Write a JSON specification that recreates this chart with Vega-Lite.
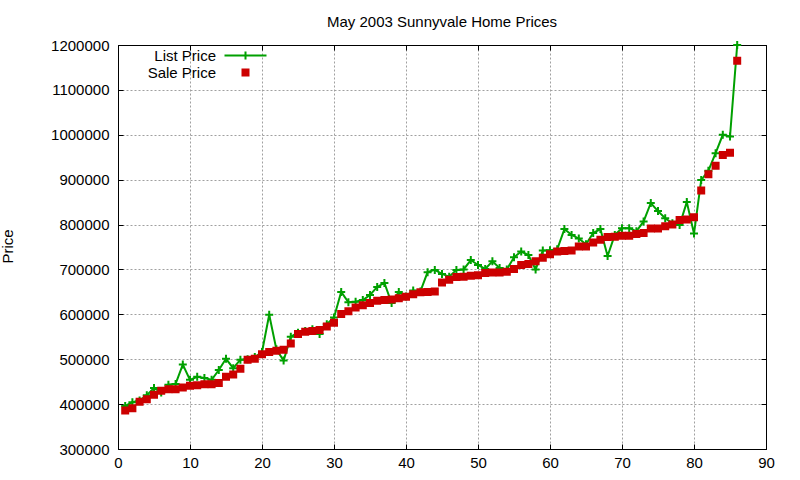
{
  "$schema": "https://vega.github.io/schema/vega-lite/v6.json",
  "width": 648,
  "height": 404,
  "autosize": {"type": "none"},
  "padding": {"left": 118, "top": 45, "right": 34, "bottom": 31},
  "background": "white",
  "title": {"text": "May 2003 Sunnyvale Home Prices", "font": "Liberation Sans", "fontSize": 15, "fontWeight": "normal", "color": "black", "anchor": "middle", "baseline": "alphabetic", "offset": 19, "dy": 24},
  "config": {
    "view": {"stroke": "black", "strokeWidth": 1},
    "axis": {"domainColor": "black", "tickColor": "black", "labelColor": "black", "labelFont": "Liberation Sans", "labelFontSize": 15, "titleFont": "Liberation Sans", "titleFontSize": 15, "titleFontWeight": "normal", "titleColor": "black", "gridColor": "#a0a0a0", "gridDash": [2, 2], "gridWidth": 1, "gridOpacity": 1},
    "legend": {"title": null, "orient": "none", "legendX": 120, "legendY": 3, "padding": 0, "labelFont": "Liberation Sans", "labelFontSize": 15, "labelColor": "black", "labelAlign": "right", "labelOffset": -37, "symbolSize": 36, "symbolStrokeWidth": 2, "rowPadding": 1, "labelLimit": 300}
  },
  "data": {"values": [
    {"n":1,"List Price":396000,"Sale Price":386000},
    {"n":2,"List Price":404000,"Sale Price":391000},
    {"n":3,"List Price":408000,"Sale Price":405000},
    {"n":4,"List Price":420000,"Sale Price":411000},
    {"n":5,"List Price":436000,"Sale Price":421000},
    {"n":6,"List Price":426000,"Sale Price":430000},
    {"n":7,"List Price":443000,"Sale Price":433000},
    {"n":8,"List Price":445000,"Sale Price":433000},
    {"n":9,"List Price":488000,"Sale Price":437000},
    {"n":10,"List Price":454000,"Sale Price":441000},
    {"n":11,"List Price":461000,"Sale Price":442000},
    {"n":12,"List Price":458000,"Sale Price":444000},
    {"n":13,"List Price":454000,"Sale Price":444000},
    {"n":14,"List Price":476000,"Sale Price":447000},
    {"n":15,"List Price":501000,"Sale Price":461000},
    {"n":16,"List Price":480000,"Sale Price":466000},
    {"n":17,"List Price":499000,"Sale Price":479000},
    {"n":18,"List Price":500000,"Sale Price":499000},
    {"n":19,"List Price":505000,"Sale Price":501000},
    {"n":20,"List Price":516000,"Sale Price":511000},
    {"n":21,"List Price":599000,"Sale Price":516000},
    {"n":22,"List Price":522000,"Sale Price":519000},
    {"n":23,"List Price":497000,"Sale Price":521000},
    {"n":24,"List Price":550000,"Sale Price":535000},
    {"n":25,"List Price":559000,"Sale Price":556000},
    {"n":26,"List Price":563000,"Sale Price":561000},
    {"n":27,"List Price":567000,"Sale Price":563000},
    {"n":28,"List Price":556000,"Sale Price":565000},
    {"n":29,"List Price":578000,"Sale Price":573000},
    {"n":30,"List Price":593000,"Sale Price":581000},
    {"n":31,"List Price":650000,"Sale Price":601000},
    {"n":32,"List Price":627000,"Sale Price":607000},
    {"n":33,"List Price":628000,"Sale Price":615000},
    {"n":34,"List Price":632000,"Sale Price":620000},
    {"n":35,"List Price":643000,"Sale Price":625000},
    {"n":36,"List Price":661000,"Sale Price":630000},
    {"n":37,"List Price":670000,"Sale Price":632000},
    {"n":38,"List Price":625000,"Sale Price":633000},
    {"n":39,"List Price":650000,"Sale Price":636000},
    {"n":40,"List Price":640000,"Sale Price":639000},
    {"n":41,"List Price":653000,"Sale Price":645000},
    {"n":42,"List Price":651000,"Sale Price":649000},
    {"n":43,"List Price":694000,"Sale Price":650000},
    {"n":44,"List Price":699000,"Sale Price":651000},
    {"n":45,"List Price":690000,"Sale Price":671000},
    {"n":46,"List Price":684000,"Sale Price":677000},
    {"n":47,"List Price":699000,"Sale Price":683000},
    {"n":48,"List Price":700000,"Sale Price":684000},
    {"n":49,"List Price":721000,"Sale Price":686000},
    {"n":50,"List Price":710000,"Sale Price":687000},
    {"n":51,"List Price":701000,"Sale Price":692000},
    {"n":52,"List Price":718000,"Sale Price":693000},
    {"n":53,"List Price":703000,"Sale Price":693000},
    {"n":54,"List Price":700000,"Sale Price":695000},
    {"n":55,"List Price":727000,"Sale Price":701000},
    {"n":56,"List Price":740000,"Sale Price":710000},
    {"n":57,"List Price":732000,"Sale Price":712000},
    {"n":58,"List Price":700000,"Sale Price":718000},
    {"n":59,"List Price":742000,"Sale Price":726000},
    {"n":60,"List Price":743000,"Sale Price":734000},
    {"n":61,"List Price":745000,"Sale Price":740000},
    {"n":62,"List Price":790000,"Sale Price":741000},
    {"n":63,"List Price":777000,"Sale Price":742000},
    {"n":64,"List Price":769000,"Sale Price":751000},
    {"n":65,"List Price":756000,"Sale Price":751000},
    {"n":66,"List Price":781000,"Sale Price":760000},
    {"n":67,"List Price":790000,"Sale Price":766000},
    {"n":68,"List Price":730000,"Sale Price":772000},
    {"n":69,"List Price":777000,"Sale Price":773000},
    {"n":70,"List Price":792000,"Sale Price":775000},
    {"n":71,"List Price":792000,"Sale Price":775000},
    {"n":72,"List Price":785000,"Sale Price":779000},
    {"n":73,"List Price":807000,"Sale Price":781000},
    {"n":74,"List Price":848000,"Sale Price":791000},
    {"n":75,"List Price":830000,"Sale Price":791000},
    {"n":76,"List Price":814000,"Sale Price":796000},
    {"n":77,"List Price":803000,"Sale Price":800000},
    {"n":78,"List Price":799000,"Sale Price":810000},
    {"n":79,"List Price":850000,"Sale Price":811000},
    {"n":80,"List Price":780000,"Sale Price":816000},
    {"n":81,"List Price":899000,"Sale Price":876000},
    {"n":82,"List Price":920000,"Sale Price":912000},
    {"n":83,"List Price":959000,"Sale Price":931000},
    {"n":84,"List Price":1000000,"Sale Price":955000},
    {"n":85,"List Price":996000,"Sale Price":960000},
    {"n":86,"List Price":1200000,"Sale Price":1165000}
  ]},
  "transform": [{"fold": ["List Price", "Sale Price"], "as": ["series", "price"]}],
  "resolve": {"scale": {"x": "shared", "y": "shared"}, "axis": {"x": "independent", "y": "independent"}},
  "layer": [
    {
      "transform": [{"filter": "datum.series === 'List Price'"}],
      "mark": {"type": "line", "color": "#00a000", "strokeWidth": 2},
      "encoding": {
        "x": {"field": "n", "type": "quantitative", "scale": {"domain": [0, 90], "nice": false},
          "axis": {"orient": "bottom", "title": null, "values": [0,10,20,30,40,50,60,70,80,90], "grid": true, "tickSize": -5, "labelPadding": 11, "labelFlush": false, "domain": true}},
        "y": {"field": "price", "type": "quantitative", "scale": {"domain": [300000, 1200000], "nice": false, "zero": false},
          "axis": {"orient": "left", "title": "Price", "values": [300000,400000,500000,600000,700000,800000,900000,1000000,1100000,1200000], "format": "d", "grid": true, "tickSize": -5, "labelPadding": 14, "labelFlush": false, "titleX": -111, "titleY": 201, "titleAngle": -90, "titleAlign": "center", "titleBaseline": "middle"}}
      }
    },
    {
      "transform": [{"filter": "datum.series === 'List Price'"}],
      "mark": {"type": "point", "shape": "M-1,0H1M0,-1V1", "size": 64, "filled": false, "color": "#00a000", "strokeWidth": 2, "opacity": 1},
      "encoding": {
        "x": {"field": "n", "type": "quantitative", "axis": {"orient": "top", "title": null, "values": [0,10,20,30,40,50,60,70,80,90], "labels": false, "grid": false, "tickSize": -5}},
        "y": {"field": "price", "type": "quantitative", "axis": {"orient": "right", "title": null, "values": [300000,400000,500000,600000,700000,800000,900000,1000000,1100000,1200000], "labels": false, "grid": false, "tickSize": -5}}
      }
    },
    {
      "transform": [{"filter": "datum.series === 'Sale Price'"}],
      "mark": {"type": "point", "filled": true, "size": 36, "strokeWidth": 2, "opacity": 1},
      "encoding": {
        "x": {"field": "n", "type": "quantitative", "axis": null},
        "y": {"field": "price", "type": "quantitative", "axis": null},
        "fill": {"field": "series", "type": "nominal", "scale": {"domain": ["List Price", "Sale Price"], "range": ["transparent", "#cc0000"]}, "legend": {"title": null}},
        "stroke": {"field": "series", "type": "nominal", "scale": {"domain": ["List Price", "Sale Price"], "range": ["#00a000", "#cc0000"]}, "legend": {"title": null}},
        "shape": {"field": "series", "type": "nominal", "scale": {"domain": ["List Price", "Sale Price"], "range": ["M-7,0H7M0,-1.33V1.33", "square"]}, "legend": {"title": null}}
      }
    }
  ]
}
